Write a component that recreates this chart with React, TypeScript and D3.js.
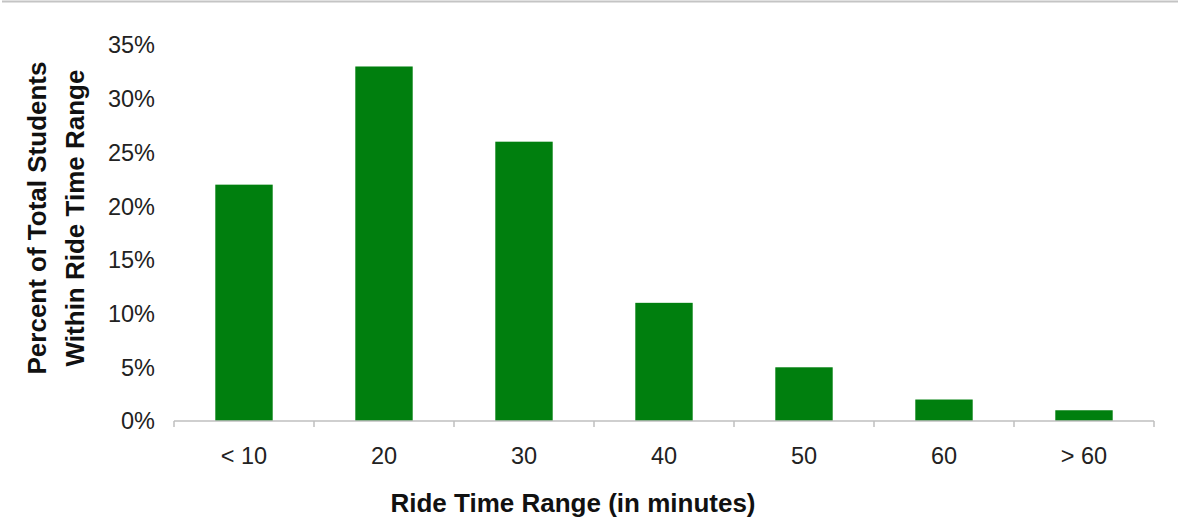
import React from "react";
import * as d3 from "d3";

const categories = ["< 10", "20", "30", "40", "50", "60", "> 60"];
const percents = [22, 33, 26, 11, 5, 2, 1];
const yTicks = [0, 5, 10, 15, 20, 25, 30, 35];

const W = 1178;
const H = 523;
const margin = { left: 174, right: 24, top: 45, bottom: 102 };

export default function App() {
  const x = d3
    .scaleBand<string>()
    .domain(categories)
    .range([margin.left, W - margin.right])
    .paddingInner(0.59)
    .paddingOuter(0.295);
  const step = x.step();
  const y = d3.scaleLinear().domain([0, 35]).range([H - margin.bottom, margin.top]);
  const y0 = y(0);
  const font = "'Liberation Sans', Arial, sans-serif";
  const boundaries = d3.range(categories.length + 1).map((i) => margin.left + i * step);

  return (
    <svg
      width={W}
      height={H}
      style={{ position: "absolute", left: 0, top: 0, background: "#fff" }}
      fontFamily={font}
    >
      <line x1={2} x2={W} y1={1.5} y2={1.5} stroke="#c4c4c4" strokeWidth={2} />
      {categories.map((c, i) => (
        <rect
          key={c}
          x={x(c)}
          y={y(percents[i])}
          width={x.bandwidth()}
          height={y0 - y(percents[i])}
          fill="#007f0e"
        />
      ))}
      <line x1={margin.left} x2={W - margin.right} y1={y0} y2={y0} stroke="#bfbfbf" strokeWidth={1.5} />
      {boundaries.map((bx, i) => (
        <line key={i} x1={bx} x2={bx} y1={y0} y2={y0 + 6} stroke="#bfbfbf" strokeWidth={1.5} />
      ))}
      {yTicks.map((t) => (
        <text key={t} x={155} y={y(t)} dy="0.36em" textAnchor="end" fontSize={23.5} fill="#222">
          {t}%
        </text>
      ))}
      {categories.map((c) => (
        <text
          key={c}
          x={(x(c) as number) + x.bandwidth() / 2}
          y={456}
          dy="0.36em"
          textAnchor="middle"
          fontSize={23.5}
          fill="#222"
        >
          {c}
        </text>
      ))}
      <text x={573} y={503} dy="0.36em" textAnchor="middle" fontSize={26} fontWeight="bold" fill="#111">
        Ride Time Range (in minutes)
      </text>
      <g transform="translate(0,218) rotate(-90)">
        <text x={0} y={37} dy="0.36em" textAnchor="middle" fontSize={26} fontWeight="bold" fill="#111">
          Percent of Total Students
        </text>
        <text x={0} y={75} dy="0.36em" textAnchor="middle" fontSize={26} fontWeight="bold" fill="#111">
          Within Ride Time Range
        </text>
      </g>
    </svg>
  );
}
